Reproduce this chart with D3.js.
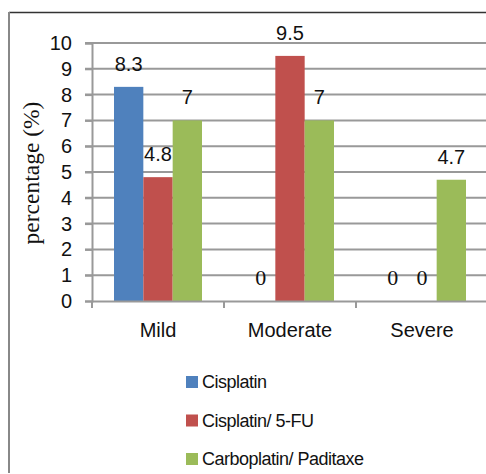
<!DOCTYPE html>
<html>
<head>
<meta charset="utf-8">
<script src="https://cdn.jsdelivr.net/npm/d3@7"></script>
<style>
  body { margin: 0; background: #fff; }
  svg { display: block; }
</style>
</head>
<body>
<script>
// chart data
var categories = ["Mild", "Moderate", "Severe"];
var seriesNames = ["Cisplatin", "Cisplatin/ 5-FU", "Carboplatin/ Paditaxe"];
var cisplatin = [8.3, 0, 0];
var cisplatin5fu = [4.8, 9.5, 0];
var carboPacli = [7, 7, 4.7];
var yTicks = [0, 1, 2, 3, 4, 5, 6, 7, 8, 9, 10];
var colors = ["#4F81BD", "#C0504D", "#9BBB59"];

var svgWidth = 486, svgHeight = 474;
var svg = d3.select("body").append("svg").attr("width", svgWidth).attr("height", svgHeight);

// outer frame (only top and left edges show)
svg.append("line").attr("x1", 9).attr("x2", svgWidth).attr("y1", 12.5).attr("y2", 12.5)
  .attr("stroke", "#333").attr("stroke-width", 1.5);
svg.append("line").attr("x1", 9).attr("x2", 9).attr("y1", 12).attr("y2", 473)
  .attr("stroke", "#888").attr("stroke-width", 2);

var x0 = d3.scaleBand().domain(categories).range([92, 488]);
var x1 = d3.scaleBand().domain(d3.range(3)).range([22, x0.bandwidth() - 22]);
var y = d3.scaleLinear().domain([0, 10]).range([301, 43]);

// gridlines
svg.append("g").selectAll("line").data(yTicks.slice(1)).enter().append("line")
  .attr("x1", 85).attr("x2", svgWidth)
  .attr("y1", d => y(d)).attr("y2", d => y(d))
  .attr("stroke", "#999").attr("stroke-width", 2);

// y axis
var yAxis = svg.append("g").attr("transform", "translate(92,0)")
  .call(d3.axisLeft(y).tickValues(yTicks).tickSize(7).tickPadding(13));
yAxis.select(".domain").attr("stroke", "#999").attr("stroke-width", 2);
yAxis.selectAll(".tick line").attr("stroke", "#999").attr("stroke-width", 2);
yAxis.selectAll("text").attr("font-family", "Liberation Sans, Arial, sans-serif")
  .attr("font-size", 20).attr("fill", "#111");

// bars
var seriesData = [cisplatin, cisplatin5fu, carboPacli];
var groups = svg.append("g").selectAll("g").data(categories).enter().append("g")
  .attr("transform", d => "translate(" + x0(d) + ",0)");
var rows = groups.selectAll("g").data((c, ci) => seriesData.map((s, si) => ({ si: si, v: s[ci] })))
  .enter().append("g");
rows.append("rect")
  .attr("x", d => x1(d.si)).attr("width", x1.bandwidth())
  .attr("y", d => y(d.v)).attr("height", d => y(0) - y(d.v))
  .attr("fill", d => colors[d.si]);

// x axis
var xAxis = svg.append("g").attr("transform", "translate(0,301)")
  .call(d3.axisBottom(x0).tickSize(0).tickPadding(22));
xAxis.select(".domain").attr("stroke", "#999").attr("stroke-width", 2);
xAxis.selectAll("text").attr("font-family", "Liberation Sans, Arial, sans-serif")
  .attr("font-size", 20).attr("fill", "#111");
svg.append("g").selectAll("line").data(x0.domain().concat(["end"])).enter().append("line")
  .attr("x1", (d, i) => 92 + i * x0.bandwidth()).attr("x2", (d, i) => 92 + i * x0.bandwidth())
  .attr("y1", 301).attr("y2", 308).attr("stroke", "#999").attr("stroke-width", 2);

// value labels
rows.append("text")
  .attr("x", d => x1(d.si) + x1.bandwidth() / 2)
  .attr("y", d => y(d.v) - 16)
  .attr("text-anchor", "middle")
  .attr("font-family", d => d.v === 0 ? "Liberation Serif, Times New Roman, serif" : "Liberation Sans, Arial, sans-serif")
  .attr("font-size", d => d.v === 0 ? 22 : 20)
  .attr("fill", "#111")
  .text(d => String(d.v));

// y title
svg.append("text")
  .attr("transform", "translate(39,173) rotate(-90)")
  .attr("text-anchor", "middle")
  .attr("font-family", "Liberation Serif, Times New Roman, serif")
  .attr("font-size", 23.5).attr("fill", "#111")
  .text("percentage (%)");

// legend
var legend = svg.append("g").selectAll("g").data(seriesNames).enter().append("g")
  .attr("transform", (d, i) => "translate(186," + (376 + i * 38.5) + ")");
legend.append("rect").attr("width", 12).attr("height", 12).attr("fill", (d, i) => colors[i]);
legend.append("text").attr("x", 16).attr("y", 12)
  .attr("font-family", "Liberation Sans, Arial, sans-serif")
  .attr("font-size", 18).attr("letter-spacing", -0.5).attr("fill", "#111")
  .text(d => d);
</script>
</body>
</html>
